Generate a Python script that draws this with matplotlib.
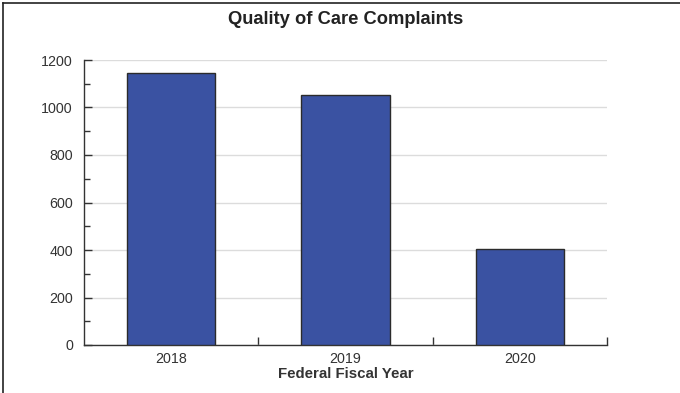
import matplotlib
matplotlib.use("Agg")
import matplotlib.pyplot as plt
from matplotlib.ticker import MultipleLocator, FixedLocator
from matplotlib.lines import Line2D

years = ["2018", "2019", "2020"]
complaints = [1145, 1053, 404]
title = "Quality of Care Complaints"
xlabel = "Federal Fiscal Year"

plt.rcParams['font.family'] = ['Liberation Sans', 'DejaVu Sans']

fig = plt.figure(figsize=(6.8, 3.93), dpi=100)
ax = fig.add_axes([84/680, 48/393, (607-84)/680, (345-60)/393])

x = list(range(len(years)))
ax.bar(x, complaints, width=0.505, color="#3A52A2", edgecolor="#2b2b2b", linewidth=1.0, zorder=3)

ax.set_xlim(-0.5, 2.5)
ax.set_ylim(0, 1200)
ax.yaxis.set_major_locator(MultipleLocator(200))
ax.yaxis.set_minor_locator(MultipleLocator(100))
ax.set_xticks(x)
ax.set_xticklabels(years)
ax.xaxis.set_minor_locator(FixedLocator([0.5, 1.5, 2.5]))

ax.grid(axis='y', which='major', color="#dcdcdc", linewidth=1.0, zorder=0)
for s in ['top', 'right']:
    ax.spines[s].set_visible(False)
for s in ['left', 'bottom']:
    ax.spines[s].set_color("#333333")
    ax.spines[s].set_linewidth(1.0)

ax.tick_params(axis='y', which='major', direction='in', length=6, width=1, color="#333333",
               labelsize=10.3, labelcolor="#333333", pad=8)
ax.tick_params(axis='y', which='minor', direction='in', length=4, width=1, color="#333333")
ax.tick_params(axis='x', which='major', length=0, labelsize=10.3, labelcolor="#333333", pad=5)
ax.tick_params(axis='x', which='minor', direction='in', length=6, width=1, color="#333333")

ax.set_xlabel(xlabel, fontsize=10.8, fontweight='bold', color="#333333", labelpad=1)
fig.text(ax.get_position().x0 + ax.get_position().width/2, 1 - 19/393, title,
         ha='center', va='center', fontsize=13.2, fontweight='bold', color="#222222")

# figure border (top and left)
fig.add_artist(Line2D([3/680, 3/680], [0, 1 - 3/393], transform=fig.transFigure, color="#222222", linewidth=1.2))
fig.add_artist(Line2D([3/680, 1], [1 - 3/393, 1 - 3/393], transform=fig.transFigure, color="#222222", linewidth=1.2))

fig.savefig("out.png", dpi=100)
